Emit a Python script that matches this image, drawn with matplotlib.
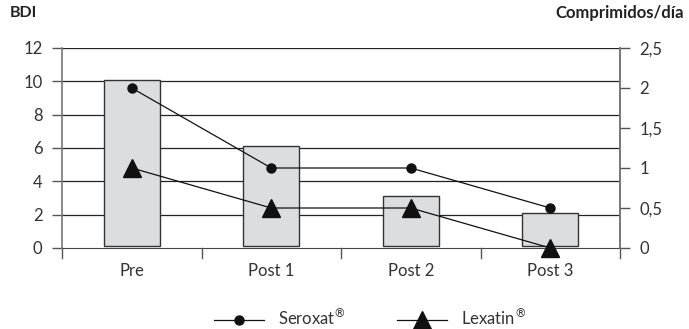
import matplotlib
matplotlib.use("Agg")
import matplotlib.pyplot as plt
from matplotlib.lines import Line2D
import numpy as np

plt.rcParams['font.family'] = ['Lato', 'DejaVu Sans']
plt.rcParams['mathtext.fontset'] = 'dejavusans'

categories = ["Pre", "Post 1", "Post 2", "Post 3"]
bdi = [10, 6, 3, 2]
seroxat = [2, 1, 1, 0.5]
lexatin = [1, 0.5, 0.5, 0]
left_ticks = [0, 2, 4, 6, 8, 10, 12]
right_ticks = [0, 0.5, 1, 1.5, 2, 2.5]
right_labels = ["0", "0,5", "1", "1,5", "2", "2,5"]

fig = plt.figure(figsize=(6.89, 3.29), dpi=100)
ax = fig.add_axes([62/689, 1 - 248/329, (620 - 62)/689, 200/329])
x = np.arange(len(categories))

ax.set_xlim(-0.5, len(categories) - 0.5)
ax.set_ylim(0, 12)
for t in left_ticks[1:]:
    ax.axhline(t, color="#222222", lw=0.9, zorder=1)
ax.bar(x, bdi, width=0.4, bottom=0.1, color="#dcdddf", edgecolor="#333333",
       linewidth=1.0, zorder=2)

ax.set_yticks(left_ticks)
ax.set_yticklabels([str(t) for t in left_ticks], fontsize=12, color="#333333")
ax.set_xticks(x)
ax.set_xticklabels(categories, fontsize=12, color="#333333")
ax.tick_params(axis="x", length=0, pad=11)
ax.tick_params(axis="y", direction="out", length=7, width=1, color="#555555", pad=7)
bounds = np.arange(-0.5, len(categories), 1.0)
for b in bounds:
    ax.plot([b, b], [0, -0.6], color="#555555", lw=1, clip_on=False, zorder=3)

ax.spines["top"].set_visible(False)
ax.spines["left"].set_color("#777777")
ax.spines["right"].set_color("#777777")
ax.spines["bottom"].set_color("#444444")
ax.spines["left"].set_linewidth(1.2)
ax.spines["right"].set_linewidth(1.2)

ax2 = ax.twinx()
ax2.set_ylim(0, 2.5)
ax2.set_yticks(right_ticks)
ax2.set_yticklabels(right_labels, fontsize=12, color="#333333")
ax2.tick_params(axis="y", direction="out", length=7, width=1, color="#555555", pad=7)
for s in ["top", "left", "bottom"]:
    ax2.spines[s].set_visible(False)
ax2.spines["right"].set_color("#777777")
ax2.spines["right"].set_linewidth(1.2)

ax2.plot(x, seroxat, color="#111111", lw=0.9, marker="o", markersize=6.5,
         markerfacecolor="#111111", markeredgecolor="#111111", clip_on=False, zorder=4)
ax2.plot(x, lexatin, color="#111111", lw=0.9, marker="^", markersize=13,
         markerfacecolor="#111111", markeredgecolor="#111111", clip_on=False, zorder=4)

fig.text(10/689, 1 - 13/329, "BDI", fontsize=11.5, fontweight="bold",
         color="#222222", ha="left", va="center")
fig.text(684/689, 1 - 13/329, "Comprimidos/día", fontsize=12, fontweight="bold",
         color="#222222", ha="right", va="center")

handles = [
    Line2D([], [], color="#111111", lw=0.9, marker="o", markersize=6.5),
    Line2D([], [], color="#111111", lw=0.9, marker="^", markersize=13),
]
fig.legend(handles, ["Seroxat$^{®}$", "Lexatin$^{®}$"], loc="center",
           bbox_to_anchor=(370/689, 1 - 318/329), ncol=2, frameon=False,
           fontsize=12, handlelength=3.0, columnspacing=3.1, handletextpad=0.8,
           labelcolor="#333333")

fig.savefig("out.png", dpi=100)
